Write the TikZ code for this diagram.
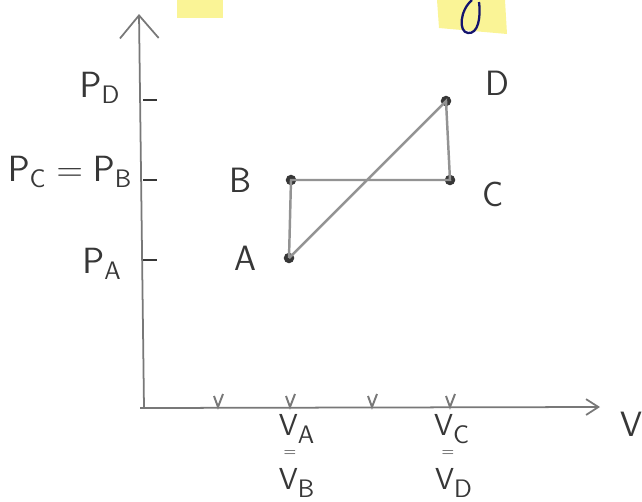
\documentclass[tikz,border=0pt]{standalone}
\usepackage{tikz}
\usetikzlibrary{arrows.meta, positioning}
\definecolor{pencil}{RGB}{120,120,120}
\definecolor{lead}{RGB}{55,55,55}
\definecolor{hilite}{RGB}{250,244,150}
\definecolor{inkblue}{RGB}{20,20,110}
\tikzset{
  axisline/.style={pencil, line width=1pt},
  cycleline/.style={pencil!80, line width=1.4pt},
  state/.style={circle, fill=lead, inner sep=0pt, minimum size=6pt},
  lbl/.style={font=\sffamily\fontsize{20}{22}\selectfont, color=lead, inner sep=1pt},
  vlbl/.style={font=\sffamily\fontsize{19}{20}\selectfont, color=lead, inner sep=0pt},
  eqsign/.style={font=\sffamily\small, color=lead, inner sep=0pt},
  tickmark/.style={lead, line width=1.1pt}
}

\begin{document}
\begin{tikzpicture}[x=0.02cm, y=-0.02cm]
  \useasboundingbox (0,0) rectangle (642,501);
  % highlighter marks on the sheet
  \fill[hilite] (177,0) rectangle (223,18);
  \fill[hilite] (437,0) -- (505,0) -- (507,34) -- (439,28) -- cycle;
  \draw[inkblue, line width=1.3pt] (472,0) .. controls (460,10) and (458,32) .. (468,33)
    .. controls (478,34) and (481,18) .. (479,2);
  % axes
  \coordinate (O) at (144,408);
  \coordinate (ytop) at (139,14);
  \coordinate (xend) at (600,407);
  \draw[axisline, -{Straight Barb[length=13pt, width=22pt]}] (O) -- (ytop);
  \draw[axisline, -{Straight Barb[length=7pt, width=9pt]}] (140,408) -- (xend);
  \node[lbl] (vaxis) at (631,424) {V};
  % pressure ticks
  \foreach \py/\nm in {100/pd, 180/pb, 260/pa}
    \draw[tickmark] (143,\py) -- (157,\py) coordinate (t\nm);
  \node[lbl] (lpd) at (100,88) {$\mathsf{P_D}$};
  \node[lbl] (lpb) at (70,172) {$\mathsf{P_C = P_B}$};
  \node[lbl] (lpa) at (102,264) {$\mathsf{P_A}$};
  % volume ticks
  \foreach \vx in {218, 290, 372, 450}
    \draw[tickmark, pencil] (\vx-4,396) -- (\vx,407) -- (\vx+5,394);
  \node[vlbl] (lva) at (297,429) {$\mathsf{V_A}$};
  \node[eqsign] (eqa) at (290,454) {=};
  \node[vlbl] (lvb) at (297,483) {$\mathsf{V_B}$};
  \node[vlbl] (lvc) at (452,429) {$\mathsf{V_C}$};
  \node[eqsign] (eqc) at (448,454) {=};
  \node[vlbl] (lvd) at (454,483) {$\mathsf{V_D}$};
  % states
  \node[state] (A) at (289,258) {};
  \node[state] (B) at (291,180) {};
  \node[state] (C) at (450,180) {};
  \node[state] (D) at (446,101) {};
  \node[lbl, left=14pt of A] (la) {A};
  \node[lbl, left=18pt of B] (lb) {B};
  \node[lbl, right=14pt of C, yshift=-8pt] (lc) {C};
  \node[lbl, right=18pt of D, yshift=10pt] (ld) {D};
  % cycle
  \draw[cycleline] (A.center) -- (B.center) -- (C.center) -- (D.center) -- (A.center);
\end{tikzpicture}
\end{document}
